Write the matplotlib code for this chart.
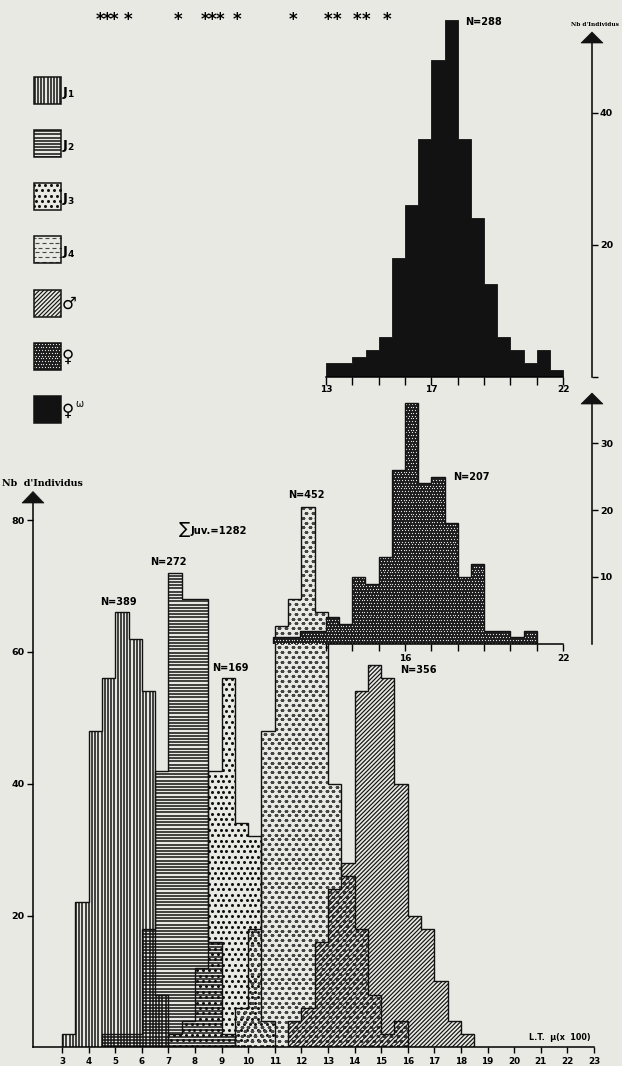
import numpy as np
import matplotlib
matplotlib.use("Agg")
import matplotlib.pyplot as plt
from matplotlib.collections import LineCollection
from matplotlib.patches import Rectangle, Polygon

plt.rcParams['font.family'] = ['DejaVu Sans']
plt.rcParams['font.weight'] = 'bold'

W, H = 622, 1066
PAPER = '#e8e9e3'
INK = '#121212'

# effectifs par classe de 0.5 (L.T. en µ x 100), debut de la 1ere classe
j1_start, j1 = 3.0, [2, 22, 48, 56, 66, 62, 54, 8]
j2_start, j2 = 4.5, [2, 2, 2, 18, 42, 72, 68, 68, 16, 2]
j3_start, j3 = 7.0, [2, 4, 12, 42, 56, 34, 32, 4]
j4_start, j4 = 9.5, [6, 18, 48, 64, 68, 82, 66, 40, 26, 18, 8, 2, 4]
male_start, male = 11.5, [4, 6, 16, 24, 28, 54, 58, 56, 40, 20, 18, 10, 4, 2]
fem_start, fem = 11.0, [1, 1, 2, 2, 4, 3, 10, 9, 13, 26, 36, 24, 25, 18, 10, 12, 2, 2, 1, 2]
ovig_start, ovig = 13.0, [2, 2, 3, 4, 6, 18, 26, 36, 48, 54, 36, 24, 14, 6, 4, 2, 4, 1]

n_labels = ['N=389', 'N=272', 'N=169', 'N=452', 'N=356']
legend_kinds = ['vert', 'horiz', 'dots', 'dashes', 'diag', 'fem', 'black']
legend_main = ['J', 'J', 'J', 'J', '\u2642', '\u2640', '\u2640']
legend_sub = ['1', '2', '3', '4', '', '', '']
stars_x = [100, 107, 114, 128, 178, 205, 212, 220, 237, 293, 328, 337, 357, 366, 387]


def edges(start, vals):
    return start + 0.5 * np.arange(len(vals) + 1)


fig = plt.figure(figsize=(W / 100, H / 100), dpi=100)
fig.patch.set_facecolor(PAPER)


def px_axes(left, right, top, bottom, z):
    ax = fig.add_axes([left / W, 1 - bottom / H, (right - left) / W, (bottom - top) / H])
    ax.patch.set_visible(False)
    ax.set_zorder(z)
    return ax


def ppu(ax):
    p = ax.transData.transform([(0, 0), (1, 1)])
    return p[1, 0] - p[0, 0], p[1, 1] - p[0, 1]


def texture(ax, clip, kind, x0, x1, y0, y1):
    sx, sy = ppu(ax)
    ay = abs(sy)
    arts = []
    if kind == 'vert':
        xs = np.arange(x0 + 1.2 / sx, x1, 3.2 / sx)
        arts.append(ax.vlines(xs, y0, y1, colors=INK, lw=1.1, zorder=1))
    elif kind == 'horiz':
        ys = np.arange(y0 + 1.2 / ay, y1, 3.2 / ay)
        arts.append(ax.hlines(ys, x0, x1, colors=INK, lw=1.1, zorder=1))
    elif kind == 'diag':
        run = (y1 - y0) * ay / sx
        cs = np.arange(x0 - run, x1 + run, 4.2 / sx)
        segs = [[(c, y0), (c + np.sign(sy) * run, y1)] for c in cs]
        lc = LineCollection(segs, colors=INK, lw=0.85, zorder=1)
        ax.add_collection(lc, autolim=False)
        arts.append(lc)
    else:
        dxp, dyp, marker, s, lw, col = {
            'dots': (5.8, 5.4, 'o', 4.8, 0, INK),
            'dashes': (6.8, 4.8, '_', 10.5, 0.8, '#454545'),
            'fem': (2.8, 2.8, 'o', 0.8, 0, '#e8e8e8'),
        }[kind]
        xs = np.arange(x0 - dxp / sx, x1 + dxp / sx, dxp / sx)
        ys = np.arange(y0 + 1.5 / ay, y1 + dyp / ay, dyp / ay)
        gx, gy = np.meshgrid(xs, ys)
        gx[1::2] += dxp / sx / 2
        arts.append(ax.scatter(gx.ravel(), gy.ravel(), s=s, marker=marker, c=col,
                               linewidths=lw, zorder=1))
    for a in arts:
        a.set_clip_path(clip)


def draw_hist(ax, start, vals, kind, lw=1.0):
    e = edges(start, vals)
    if kind == 'black':
        ax.stairs(vals, e, baseline=0, fill=True, facecolor=INK, edgecolor=INK, lw=0.6, zorder=2)
        return
    face = '#1c1c1c' if kind == 'fem' else 'none'
    clip = ax.stairs(vals, e, baseline=0, fill=True, facecolor=face, edgecolor='none', lw=0, zorder=1)
    texture(ax, clip, kind, e[0], e[-1], 0, max(vals))
    ax.stairs(vals, e, baseline=0, color=INK, lw=lw, zorder=3)


# --- histogramme principal (juveniles + males)
main = px_axes(33, 594, 491, 1047.3, 1)
main.set_xlim(3 - 29 / 26.6, 23)
main.set_ylim(0, (1047.3 - 491) / 6.59)
for sp in ('top', 'right'):
    main.spines[sp].set_visible(False)
for sp in ('left', 'bottom'):
    main.spines[sp].set_linewidth(1.1)
main.spines['left'].set_bounds(0, (1047.3 - 503) / 6.59)
main.set_xticks(range(3, 24))
main.set_yticks([20, 40, 60, 80])
main.tick_params(axis='x', direction='out', length=4.3, width=1.0, pad=3, labelsize=6.3)
main.tick_params(axis='y', direction='out', length=4.5, width=1.0, pad=1.5, labelsize=6.8)

draw_hist(main, j1_start, j1, 'vert')
draw_hist(main, j2_start, j2, 'horiz')
draw_hist(main, j3_start, j3, 'dots')
draw_hist(main, j4_start, j4, 'dashes')
draw_hist(main, male_start, male, 'diag')

# --- femelles (axe du milieu)
mid = px_axes(266, 592, 380, 644, 2)
mid.set_xlim(13 - 60 / 26.34, 23.1)
mid.set_ylim(0, 264 / 6.7)
for sp in ('top', 'left'):
    mid.spines[sp].set_visible(False)
for sp in ('right', 'bottom'):
    mid.spines[sp].set_linewidth(1.1)
mid.spines['right'].set_bounds(0, (644 - 404) / 6.7)
mid.spines['bottom'].set_bounds(13, 22)
mid.yaxis.tick_right()
mid.set_yticks([10, 20, 30])
mid.set_xticks(range(13, 23))
mid.set_xticklabels([str(v) if v in (16, 22) else '' for v in range(13, 23)])
mid.tick_params(axis='x', direction='out', length=5, width=1.0, pad=2.5, labelsize=6.5)
mid.tick_params(axis='y', direction='out', length=4.3, width=1.0, pad=1.5, labelsize=6.8)
draw_hist(mid, fem_start, fem, 'fem')

# --- femelles ovigeres (en haut)
top = px_axes(326, 592, 10, 376.5, 3)
top.set_xlim(13, 23.1)
top.set_ylim(0, 366.5 / 6.6)
for sp in ('top', 'left'):
    top.spines[sp].set_visible(False)
for sp in ('right', 'bottom'):
    top.spines[sp].set_linewidth(1.1)
top.spines['right'].set_bounds(0, (376.5 - 43) / 6.6)
top.spines['bottom'].set_bounds(13, 22)
top.yaxis.tick_right()
top.set_yticks([0, 20, 40])
top.set_yticklabels(['', '20', '40'])
top.set_xticks(range(13, 23))
top.set_xticklabels([str(v) if v in (13, 17, 22) else '' for v in range(13, 23)])
top.tick_params(axis='x', direction='out', length=5.5, width=1.0, pad=0.8, labelsize=6.5)
top.tick_params(axis='y', direction='out', length=4.3, width=1.0, pad=1.5, labelsize=6.8)
draw_hist(top, ovig_start, ovig, 'black')

# --- calque en pixels : fleches, textes, legende
ov = fig.add_axes([0, 0, 1, 1])
ov.set_xlim(0, W)
ov.set_ylim(H, 0)
ov.axis('off')
ov.set_zorder(10)

for xa, tip, base in [(33, 491.5, 503), (592, 32, 43), (592, 393, 404)]:
    ov.add_patch(Polygon([(xa - 11, base), (xa + 11, base), (xa, tip)], closed=True,
                         facecolor=INK, edgecolor=INK, lw=0.5))

ov.text(2, 484, "Nb  d'Individus", family='DejaVu Serif', fontsize=6.8, va='center', ha='left')
ov.text(571, 25, "Nb d'Individus", family='DejaVu Serif', fontsize=4.2, va='center', ha='left')

for lab, (x, y) in zip(n_labels, [(118, 602), (168, 562), (230, 668), (306, 495), (418, 670)]):
    ov.text(x, y, lab, fontsize=7, ha='center', va='center')
ov.text(471, 477, 'N=207', fontsize=7, ha='center', va='center')
ov.text(465, 22, 'N=288', fontsize=7, ha='left', va='center')
ov.text(184, 529, '\u2211', fontsize=12, fontweight='normal', ha='center', va='center')
ov.text(191, 531, 'Juv.=1282', fontsize=7.2, ha='left', va='center')
ov.text(591, 1037, 'L.T.  \u00b5(x  100)', fontsize=5.8, ha='right', va='center')

for x in stars_x:
    ov.text(x, 25, '*', fontsize=12, ha='center', va='baseline')

# legende
for i, kind in enumerate(legend_kinds):
    cy = 90.3 + i * 53.2
    x0, y0, sz = 33.5, cy - 13.5, 27
    face = {'black': INK, 'fem': '#1c1c1c'}.get(kind, 'none')
    clip = Rectangle((x0, y0), sz, sz, facecolor=face, edgecolor='none', lw=0)
    ov.add_patch(clip)
    if kind != 'black':
        texture(ov, clip, kind, x0, x0 + sz, y0, y0 + sz)
    ov.add_patch(Rectangle((x0, y0), sz, sz, fill=False, edgecolor=INK, lw=1.1, zorder=3))
    if legend_sub[i]:
        ov.text(62.5, cy + 2, legend_main[i], fontsize=9.5, ha='left', va='center')
        ov.text(67.5, cy + 4.5, legend_sub[i], fontsize=6.5, ha='left', va='center')
    else:
        ov.text(62, cy + 1, legend_main[i], fontsize=12, ha='left', va='center')
ov.text(75, 404, '\u03c9', fontsize=7, fontweight='normal', ha='left', va='center')

fig.savefig('out.png', dpi=100, facecolor=PAPER)
